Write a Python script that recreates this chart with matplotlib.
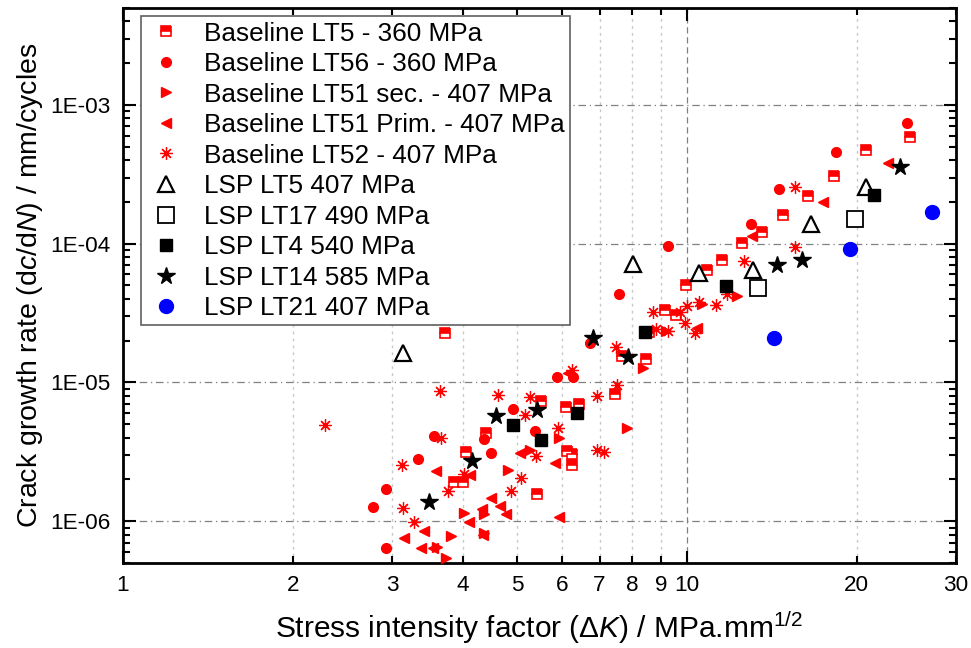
import math
import matplotlib
matplotlib.use('Agg')
import matplotlib.pyplot as plt
from matplotlib.ticker import FixedLocator, FuncFormatter, NullFormatter

plt.rcParams['font.family'] = ['Liberation Sans', 'DejaVu Sans']
plt.rcParams['mathtext.fontset'] = 'custom'
plt.rcParams['mathtext.rm'] = 'Liberation Sans'
plt.rcParams['mathtext.it'] = 'Liberation Sans:italic'

# Baseline LT5 - 360 MPa
lt5_dk = [3.72, 3.86, 4.05, 4.40, 4.00, 5.42, 5.52, 6.09, 6.13, 6.25, 6.25, 6.44, 7.45, 7.66,
	8.47, 9.14, 9.57, 8.58, 9.97, 10.84, 11.54, 12.51, 13.60, 14.78, 16.36, 18.26, 20.81, 24.87]
lt5_rate = [2.29e-5, 1.92e-6, 3.15e-6, 4.35e-6, 1.91e-6, 1.56e-6, 7.40e-6, 6.70e-6, 3.20e-6, 3.07e-6,
	2.54e-6, 7.04e-6, 8.26e-6, 1.55e-5, 1.48e-5, 3.32e-5, 3.04e-5, 2.30e-5, 5.03e-5, 6.48e-5,
	7.59e-5, 1.02e-4, 1.21e-4, 1.61e-4, 2.22e-4, 3.06e-4, 4.74e-4, 5.85e-4]

# Baseline LT56 - 360 MPa
lt56_dk = [2.77, 2.93, 2.93, 3.33, 3.56, 4.37, 4.49, 4.92, 5.38, 5.89, 6.29, 6.72, 7.59, 9.25,
	12.97, 14.56, 18.39, 24.57]
lt56_rate = [1.26e-6, 1.72e-6, 6.36e-7, 2.81e-6, 4.14e-6, 3.91e-6, 3.08e-6, 6.46e-6, 4.45e-6,
	1.10e-5, 1.10e-5, 1.93e-5, 4.31e-5, 9.61e-5, 1.38e-4, 2.49e-4, 4.56e-4, 7.45e-4]

# Baseline LT51 sec. - 407 MPa
lt51s_dk = [3.74, 3.82, 3.60, 4.02, 4.36, 4.36, 4.81, 5.27, 5.92, 7.82, 8.35, 10.62, 12.27, 9.17]
lt51s_rate = [5.41e-7, 7.81e-7, 6.50e-7, 1.14e-6, 1.13e-6, 8.23e-7, 2.35e-6, 3.24e-6, 3.98e-6,
	4.70e-6, 1.28e-5, 3.67e-5, 4.21e-5, 2.36e-5]

# Baseline LT51 Prim. - 407 MPa
lt51p_dk = [3.15, 3.37, 3.55, 3.42, 3.59, 4.12, 4.11, 4.33, 4.34, 4.49, 4.67, 4.77, 5.06, 5.84,
	5.94, 6.15, 10.40, 13.03, 17.42, 22.74]
lt51p_rate = [7.58e-7, 6.36e-7, 6.36e-7, 8.51e-7, 2.29e-6, 2.16e-6, 9.85e-7, 1.23e-6, 7.99e-7,
	1.48e-6, 1.28e-6, 1.13e-6, 3.12e-6, 2.63e-6, 1.08e-6, 1.17e-5, 2.48e-5, 1.13e-4, 1.99e-4, 3.81e-4]

# Baseline LT52 - 407 MPa
lt52_dk = [2.28, 3.12, 3.14, 3.28, 3.65, 3.66, 3.77, 4.02, 4.62, 4.88, 5.07, 5.17, 5.27, 5.39,
	5.91, 6.25, 6.93, 6.93, 7.13, 7.49, 7.52, 8.72, 8.82, 9.27, 9.70, 9.93, 10.01, 10.33, 10.51,
	11.26, 11.79, 12.63, 15.56, 15.56, 4.12]
lt52_rate = [4.94e-6, 2.56e-6, 1.24e-6, 9.92e-7, 8.74e-6, 3.96e-6, 1.66e-6, 2.18e-6, 8.08e-6,
	1.66e-6, 2.05e-6, 5.78e-6, 7.85e-6, 2.96e-6, 4.72e-6, 1.23e-5, 7.95e-6, 3.24e-6, 3.16e-6,
	1.80e-5, 9.58e-6, 3.23e-5, 2.44e-5, 2.33e-5, 3.22e-5, 2.68e-5, 3.53e-5, 2.29e-5, 3.80e-5,
	3.62e-5, 4.33e-5, 7.53e-5, 2.55e-4, 9.48e-5, 1.30e-4]

# LSP LT5 407 MPa
lsp5_dk = [3.14, 8.01, 10.50, 13.09, 16.56, 20.81]
lsp5_rate = [1.62e-5, 7.13e-5, 6.17e-5, 6.45e-5, 1.38e-4, 2.57e-4]

# LSP LT17 490 MPa
lsp17_dk = [13.35, 19.83]
lsp17_rate = [4.78e-5, 1.51e-4]

# LSP LT4 540 MPa
lsp4_dk = [4.91, 5.50, 6.39, 8.44, 11.71, 21.46]
lsp4_rate = [4.91e-6, 3.87e-6, 6.03e-6, 2.30e-5, 4.94e-5, 2.23e-4]

# LSP LT14 585 MPa
lsp14_dk = [3.49, 4.16, 4.58, 5.43, 6.80, 7.85, 14.44, 15.99, 23.84]
lsp14_rate = [1.37e-6, 2.71e-6, 5.70e-6, 6.30e-6, 2.10e-5, 1.53e-5, 6.99e-5, 7.61e-5, 3.59e-4]

# LSP LT21 407 MPa
lsp21_dk = [14.28, 19.45, 27.19]
lsp21_rate = [2.08e-5, 9.10e-5, 1.70e-4]

x_ticks_major = [1, 10]
x_ticks_minor = [2, 3, 4, 5, 6, 7, 8, 9, 20, 30]
y_ticks = [1e-6, 1e-5, 1e-4, 1e-3]

fig = plt.figure(figsize=(9.71, 6.48), dpi=100)
ax = fig.add_axes([0.1267, 0.1312, 0.8579, 0.8565])
ax.set_xscale('log')
ax.set_yscale('log')

red = '#ff0000'
ax.plot(lt5_dk, lt5_rate, ls='none', marker='s', ms=6.5, mfc=red, mfcalt='white', mec=red,
	mew=1.2, fillstyle='top', label='Baseline LT5 - 360 MPa', zorder=3)
ax.plot(lt56_dk, lt56_rate, ls='none', marker='o', ms=7, color=red, mec=red,
	label='Baseline LT56 - 360 MPa', zorder=3)
ax.plot(lt51s_dk, lt51s_rate, ls='none', marker='>', ms=7.5, color=red, mec=red,
	label='Baseline LT51 sec. - 407 MPa', zorder=3)
ax.plot(lt51p_dk, lt51p_rate, ls='none', marker='<', ms=7.5, color=red, mec=red,
	label='Baseline LT51 Prim. - 407 MPa', zorder=3)
ax.plot(lt52_dk, lt52_rate, ls='none', marker=(8, 2, 0), ms=9, color=red, mec=red, mew=0.9,
	label='Baseline LT52 - 407 MPa', zorder=3)
ax.plot(lsp5_dk, lsp5_rate, ls='none', marker='^', ms=12, mfc='white', mec='black', mew=1.6,
	label='LSP LT5 407 MPa', zorder=4)
ax.plot(lsp17_dk, lsp17_rate, ls='none', marker='s', ms=12, mfc='white', mec='black', mew=1.3,
	label='LSP LT17 490 MPa', zorder=4)
ax.plot(lsp4_dk, lsp4_rate, ls='none', marker='s', ms=9, color='black',
	label='LSP LT4 540 MPa', zorder=4)
ax.plot(lsp14_dk, lsp14_rate, ls='none', marker='*', ms=13, color='black',
	label='LSP LT14 585 MPa', zorder=4)
ax.plot(lsp21_dk, lsp21_rate, ls='none', marker='o', ms=10, color='#0000ff',
	label='LSP LT21 407 MPa', zorder=4)

ax.set_xlim(1, 30)
ax.set_ylim(5e-7, 5e-3)

ax.xaxis.set_major_locator(FixedLocator(x_ticks_major))
ax.xaxis.set_minor_locator(FixedLocator(x_ticks_minor))
ax.xaxis.set_major_formatter(FuncFormatter(lambda v, p: '%d' % round(v)))
ax.xaxis.set_minor_formatter(FuncFormatter(lambda v, p: '%d' % round(v)))
ax.yaxis.set_major_locator(FixedLocator(y_ticks))
ax.yaxis.set_major_formatter(FuncFormatter(lambda v, p: '1E-%02d' % round(-math.log10(v))))
ax.yaxis.set_minor_formatter(NullFormatter())

ax.tick_params(which='both', direction='in', top=True, right=True, labelsize=16.2, width=1.5)
ax.tick_params(which='major', length=9, pad=9)
ax.tick_params(which='minor', length=5, pad=9)
for s in ax.spines.values():
	s.set_linewidth(2)

# grid lines
ax.grid(which='major', axis='y', color='#808080', ls=(0, (6, 3, 1, 3)), lw=0.9)
ax.grid(which='major', axis='x', color='#808080', ls=(0, (5, 3)), lw=0.9)
ax.grid(which='minor', axis='x', color='#c8c8c8', ls=(0, (2, 3)), lw=1.0)
ax.set_axisbelow(True)

ax.set_xlabel(r'Stress intensity factor ($\Delta\mathit{K}$) / MPa.mm$^{1/2}$', fontsize=21.5, labelpad=9)
ax.set_ylabel(r'Crack growth rate (d$\mathit{c}$/d$\mathit{N}$) / mm/cycles', fontsize=20.5, labelpad=4)

leg = ax.legend(loc='upper left', bbox_to_anchor=(0.022, 0.985), borderaxespad=0, fontsize=18.8,
	frameon=True, fancybox=False, edgecolor='#606060', framealpha=1, handletextpad=0.7,
	labelspacing=0.25, borderpad=0.2, handlelength=1.5, numpoints=1)
leg.get_frame().set_linewidth(1.2)

fig.savefig('out.png', dpi=100)
